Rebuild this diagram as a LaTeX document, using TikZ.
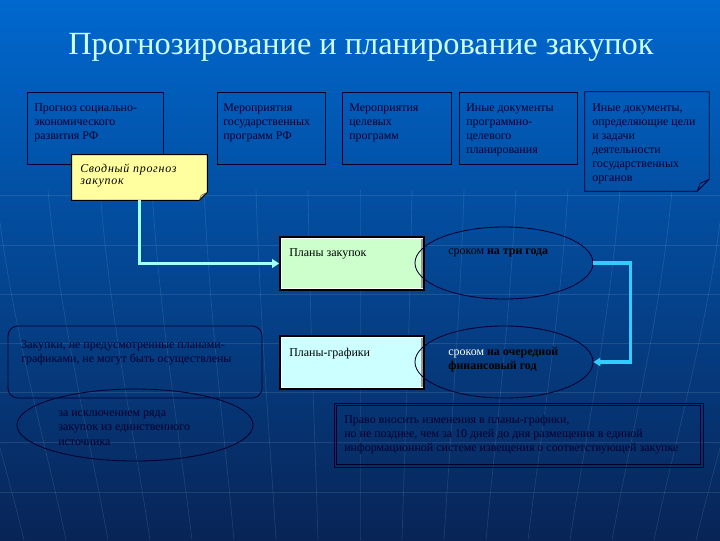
\documentclass[tikz,border=0pt]{standalone}
\usepackage{fontspec}
\setmainfont{Liberation Serif}
\newfontfamily\spacedit[LetterSpace=6]{Liberation Serif}
\usetikzlibrary{fit,calc,arrows.meta,shapes.geometric}

\definecolor{bgtop}{RGB}{0,104,206}
\definecolor{bgmid}{RGB}{6,72,156}
\definecolor{bgbot}{RGB}{8,36,86}
\definecolor{ink}{RGB}{0,0,48}
\definecolor{titlecol}{RGB}{204,255,255}
\definecolor{notefill}{RGB}{255,255,160}
\definecolor{plangreen}{RGB}{204,255,204}
\definecolor{plancyan}{RGB}{204,255,255}
\definecolor{linkpale}{RGB}{160,255,255}
\definecolor{linkcyan}{RGB}{51,204,255}

\begin{document}
\begin{tikzpicture}[x=0.025cm, y=-0.025cm,
    frame/.style={draw=ink, line width=0.6pt, inner sep=0pt},
    txt/.style={anchor=north west, inner sep=0pt, align=left, text=ink,
      font=\fontsize{8.5}{10}\selectfont},
    planbox/.style={draw=black, line width=1.1pt, inner sep=0pt},
    oval/.style={ellipse, draw=ink, line width=0.6pt, inner sep=0pt},
    grid/.style={white, line width=0.5pt, opacity=0.1},
    link/.style={line width=2.2pt, -{Triangle[length=5pt,width=6pt]}}]
  % фон
  \useasboundingbox (0,0) rectangle (720,540);
  \shade[top color=bgtop, middle color=bgmid, bottom color=bgbot] (0,0) rectangle (720,540);
  \begin{scope}
    \clip (0,0) rectangle (720,540);
    \foreach \k in {-8,...,8}
      \draw[grid] (360+52*\k,190) .. controls (360+50*\k,320) and (360+45*\k,440) .. (360+42*\k,540);
    \foreach \yy in {195,245,294,343,392,442,492}
      \draw[grid] (0,\yy) -- (720,\yy);
  \end{scope}
  \node[text=titlecol, font=\fontsize{23}{26}\selectfont] (title) at (361,47)
    {Прогнозирование и планирование закупок};
  % верхний ряд документов
  \node[frame, fit={(27,92) (163,164)}] (social) {};
  \node[frame, fit={(217,92) (325,164)}] (state) {};
  \node[frame, fit={(342,92) (451,164)}] (target) {};
  \node[frame, fit={(459,92) (577,164)}] (other) {};
  \node[inner sep=0pt, fit={(585,92) (709,191)}] (organs) {};
  \draw[ink, line width=0.6pt] (organs.north west) -- (organs.north east)
    -- ($(organs.south east)+(0,-12)$) -- ($(organs.south east)+(-12,0)$)
    -- (organs.south west) -- cycle;
  \draw[ink, line width=0.6pt] ($(organs.south east)+(-12,0)$) -- ($(organs.south east)+(-9,-8)$)
    -- ($(organs.south east)+(0,-12)$);
  \node[txt] at (34,103) {Прогноз социально-\\экономического\\развития РФ};
  \node[txt] at (223,103) {Мероприятия\\государственных\\программ РФ};
  \node[txt] at (349,103) {Мероприятия\\целевых\\программ};
  \node[txt] at (466,103) {Иные документы\\программно-\\целевого\\планирования};
  \node[txt] at (592,103) {Иные документы,\\определяющие цели\\и задачи\\деятельности\\государственных\\органов};
  % сводный прогноз
  \node[inner sep=0pt, fit={(72,155) (207,200)}] (summary) {};
  \filldraw[fill=notefill, draw=black, line width=0.7pt] (summary.north west) -- (summary.north east)
    -- ($(summary.south east)+(0,-8)$) -- ($(summary.south east)+(-8,0)$)
    -- (summary.south west) -- cycle;
  \draw[black!60, line width=0.5pt] ($(summary.south east)+(-8,0)$) -- ($(summary.south east)+(-6,-5)$)
    -- ($(summary.south east)+(0,-8)$);
  \node[txt, text=black, font=\fontsize{8.5}{8.6}\selectfont\spacedit\itshape] at (80,164)
    {Сводный прогноз\\закупок};
  % планы
  \node[planbox, fill=plangreen, fit={(280,237) (424,290)}] (plan) {};
  \node[planbox, fill=plancyan, fit={(280,336) (424,389)}] (schedule) {};
  \foreach \b in {plan, schedule} {
    \draw[white, line width=0.6pt] ($(\b.north west)+(2.5,2.5)$) rectangle ($(\b.south east)+(-2.5,-2.5)$);
    \fill[black!40] ($(\b.north east)+(-3.5,3)$) rectangle ($(\b.south east)+(-1.5,-3)$);
  }
  \node[txt, text=black] at (289,248) {Планы закупок};
  \node[txt, text=black] at (289,348) {Планы-графики};
  % сроки
  \node[oval, minimum width=4.45cm, minimum height=1.8cm] (term3) at (504,263) {};
  \node[oval, minimum width=4.45cm, minimum height=1.8cm] (term1) at (504,362) {};
  \node[txt, text=black] at (448,249) {сроком \textbf{на три года}};
  \node[txt, text=black] at (448,347) {\textcolor{white}{сроком} \textbf{на очередной}\\\textbf{финансовый год}};
  % связи
  \draw[link, linkpale] (summary.south) |- (plan.west);
  \draw[link, linkcyan] (term3.east) -- ++(37,0) |- (term1.east);
  % ограничения
  \node[frame, rounded corners=7pt, fit={(8,326) (262,398)}] (limit) {};
  \node[txt] at (21,340) {Закупки, не предусмотренные планами-\\графиками, не могут быть осуществлены};
  \node[oval, minimum width=5.9cm, minimum height=1.8cm] (except) at (135,425) {};
  \node[txt] at (58,411) {за исключением ряда\\закупок из единственного\\источника};
  % изменения
  \node[frame, fit={(334,403) (703,467)}] (change) {};
  \draw[ink, line width=0.6pt] ($(change.north west)+(3,3)$) rectangle ($(change.south east)+(-3,-3)$);
  \node[txt] at (344,415) {Право вносить изменения в планы-графики,\\но не позднее, чем за 10 дней до дня размещения в единой\\информационной системе извещения о соответствующей закупке};
\end{tikzpicture}
\end{document}
